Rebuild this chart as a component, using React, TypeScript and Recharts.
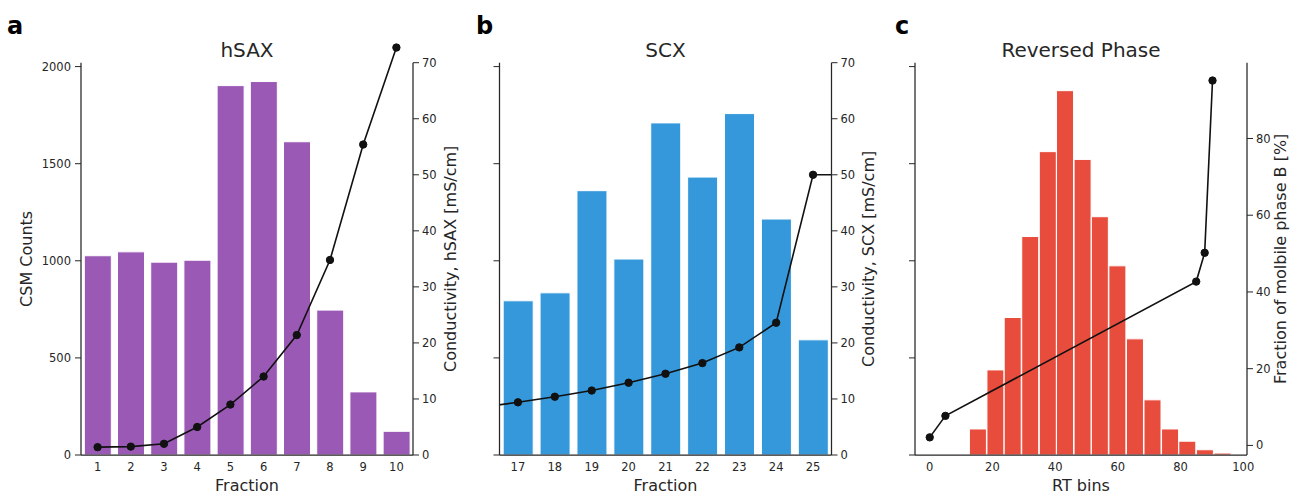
import React from 'react';
import { ComposedChart, Bar, Line, XAxis, YAxis, ReferenceLine } from 'recharts';

// panel a: hSAX fractions
const hsaxFractions = [1, 2, 3, 4, 5, 6, 7, 8, 9, 10];
const hsaxCounts = [1026, 1046, 993, 1003, 1902, 1923, 1613, 746, 325, 122];
const hsaxConductivity = [1.4, 1.5, 2.0, 5.0, 9.0, 14.0, 21.4, 34.8, 55.4, 72.7];

// panel b: SCX fractions (16 and 26 sit outside the axes, the line runs into the spines)
const scxFractions = [16, 17, 18, 19, 20, 21, 22, 23, 24, 25, 26];
const scxCounts = [null, 794, 835, 1361, 1009, 1710, 1431, 1758, 1215, 593, null];
const scxConductivity = [8.5, 9.4, 10.4, 11.5, 12.9, 14.5, 16.4, 19.2, 23.6, 50.0, 50.0];
const scxTicks = [17, 18, 19, 20, 21, 22, 23, 24, 25];

// panel c: reversed phase RT histogram + gradient
const rtBinCenters = [15.4, 21.0, 26.5, 32.1, 37.7, 43.2, 48.8, 54.3, 59.9, 65.5, 71.1, 76.7, 82.2, 87.8, 93.4];
const rtCounts = [134, 438, 708, 1125, 1562, 1876, 1522, 1227, 974, 598, 284, 134, 71, 27, 10];
const gradientTime = [0, 5, 85, 87.7, 90.2];
const gradientB = [2.1, 7.7, 42.7, 50.2, 95.1];
const rtTicks = [0, 20, 40, 60, 80, 100];

const countTicks = [0, 500, 1000, 1500, 2000];
const condTicks = [0, 10, 20, 30, 40, 50, 60, 70];
const phaseTicks = [0, 20, 40, 60, 80];

const hsaxRows = hsaxFractions.map((f, i) => ({ x: f, count: hsaxCounts[i], cond: hsaxConductivity[i] }));
const scxRows = scxFractions.map((f, i) => ({ x: f, count: scxCounts[i], cond: scxConductivity[i] }));
const rtRows = rtBinCenters.map((c, i) => ({ x: c, count: rtCounts[i] }));
const gradientRows = gradientTime.map((t, i) => ({ t, b: gradientB[i] }));

const W = 1292;
const H = 493;
const PLOT_TOP = 40; // drawing area starts above the spines so the last hSAX point is not cut
const SPINE_TOP = 62.7;
const BASE = 455;
const stretch = (BASE - PLOT_TOP) / (BASE - SPINE_TOP);
const grow = ([lo, hi]: number[]) => [lo, lo + (hi - lo) * stretch];

const COUNT_LIM = [0, 2020];
const COND_LIM = [0, 70];
const PHASE_LIM = [-2.5, 99.75];
const RT_DOMAIN = [-4.7, 101.2];

const INK = '#262626';
const PURPLE = '#9b59b6';
const BLUE = '#3498db';
const RED = '#e74c3c';

const tickStyle = { fill: INK, fontSize: 11.5 };
const axisLine = { stroke: INK, strokeWidth: 1.25 };
const dotStyle = { r: 3.7, fill: '#111', stroke: '#111', strokeWidth: 1 };

function spines(xId: string, xDom: number[], rightId: string, rightLim: number[]) {
  return [
    <ReferenceLine
      key="left"
      xAxisId={xId}
      yAxisId="count"
      segment={[{ x: xDom[0], y: COUNT_LIM[0] }, { x: xDom[0], y: COUNT_LIM[1] }]}
      stroke={INK}
      strokeWidth={1.25}
      ifOverflow="visible"
    />,
    <ReferenceLine
      key="right"
      xAxisId={xId}
      yAxisId={rightId}
      segment={[{ x: xDom[1], y: rightLim[0] }, { x: xDom[1], y: rightLim[1] }]}
      stroke={INK}
      strokeWidth={1.25}
      ifOverflow="visible"
    />,
  ];
}

function xLabel(value: string) {
  return { value, position: 'insideBottom' as const, offset: 2.5, fill: INK, fontSize: 16 };
}

function YLabel({ x, text }: { x: number; text: string }) {
  const y = (SPINE_TOP + BASE) / 2;
  return (
    <text x={x} y={y} dy="0.355em" transform={`rotate(-90 ${x} ${y})`} textAnchor="middle" fill={INK} fontSize={16}>
      {text}
    </text>
  );
}

export default function App() {
  const noLabel = () => '';
  return (
    <div style={{ position: 'absolute', left: 0, top: 0, width: W, height: H, fontFamily: "'DejaVu Sans', sans-serif", background: '#fff' }}>
      {/* a: hSAX */}
      <div style={{ position: 'absolute', left: 0, top: 0 }}>
        <ComposedChart width={460} height={H} data={hsaxRows} margin={{ top: PLOT_TOP, right: 0, bottom: 0, left: 0 }} barCategoryGap="10%">
          <XAxis xAxisId="x" dataKey="x" type="number" domain={[0.5, 10.5]} allowDataOverflow ticks={hsaxFractions} interval={0}
            height={H - BASE} tickLine={false} tickSize={0} tickMargin={8} axisLine={axisLine} tick={tickStyle} label={xLabel('Fraction')} />
          <YAxis yAxisId="count" width={81} domain={grow(COUNT_LIM)} allowDataOverflow ticks={countTicks} interval={0}
            axisLine={false} tickSize={6} tickMargin={4} tickLine={{ stroke: INK }} tick={tickStyle} />
          <YAxis yAxisId="cond" orientation="right" width={47} domain={grow(COND_LIM)} allowDataOverflow ticks={condTicks} interval={0}
            axisLine={false} tickSize={6} tickMargin={3} tickLine={{ stroke: INK }} tick={tickStyle} />
          <Bar xAxisId="x" yAxisId="count" dataKey="count" fill={PURPLE} stroke="#fff" strokeWidth={1} isAnimationActive={false} />
          <Line xAxisId="x" yAxisId="cond" dataKey="cond" type="linear" stroke="#111" strokeWidth={1.6}
            dot={dotStyle} activeDot={false} isAnimationActive={false} />
          {spines('x', [0.5, 10.5], 'cond', COND_LIM)}
        </ComposedChart>
      </div>

      {/* b: SCX */}
      <div style={{ position: 'absolute', left: 460, top: 0 }}>
        <ComposedChart width={415} height={H} data={scxRows} margin={{ top: PLOT_TOP, right: 0, bottom: 0, left: 0 }} barCategoryGap="10%">
          <XAxis xAxisId="x" dataKey="x" type="number" domain={[16.5, 25.5]} allowDataOverflow ticks={scxTicks} interval={0}
            height={H - BASE} tickLine={false} tickSize={0} tickMargin={8} axisLine={axisLine} tick={tickStyle} label={xLabel('Fraction')} />
          <YAxis yAxisId="count" width={39.5} domain={grow(COUNT_LIM)} allowDataOverflow ticks={countTicks} interval={0}
            axisLine={false} tickSize={6} tickMargin={4} tickLine={{ stroke: INK }} tick={tickStyle} tickFormatter={noLabel} />
          <YAxis yAxisId="cond" orientation="right" width={43.5} domain={grow(COND_LIM)} allowDataOverflow ticks={condTicks} interval={0}
            axisLine={false} tickSize={6} tickMargin={3} tickLine={{ stroke: INK }} tick={tickStyle} />
          <Bar xAxisId="x" yAxisId="count" dataKey="count" fill={BLUE} stroke="#fff" strokeWidth={1} isAnimationActive={false} />
          <Line xAxisId="x" yAxisId="cond" dataKey="cond" type="linear" stroke="#111" strokeWidth={1.6}
            dot={dotStyle} activeDot={false} isAnimationActive={false} />
          {spines('x', [16.5, 25.5], 'cond', COND_LIM)}
        </ComposedChart>
      </div>

      {/* c: Reversed Phase */}
      <div style={{ position: 'absolute', left: 875, top: 0 }}>
        <ComposedChart width={417} height={H} data={rtRows} margin={{ top: PLOT_TOP, right: 0, bottom: 0, left: 0 }} barCategoryGap={0}>
          <XAxis xAxisId="x" dataKey="x" type="number" domain={RT_DOMAIN} allowDataOverflow ticks={rtTicks} interval={0}
            height={H - BASE} tickLine={false} tickSize={0} tickMargin={8} axisLine={axisLine} tick={tickStyle} label={xLabel('RT bins')} />
          <XAxis xAxisId="t" dataKey="t" type="number" domain={RT_DOMAIN} allowDataOverflow hide height={0} orientation="top" />
          <YAxis yAxisId="count" width={40} domain={grow(COUNT_LIM)} allowDataOverflow ticks={countTicks} interval={0}
            axisLine={false} tickSize={6} tickMargin={4} tickLine={{ stroke: INK }} tick={tickStyle} tickFormatter={noLabel} />
          <YAxis yAxisId="phase" orientation="right" width={45} domain={grow(PHASE_LIM)} allowDataOverflow ticks={phaseTicks} interval={0}
            axisLine={false} tickSize={6} tickMargin={3} tickLine={{ stroke: INK }} tick={tickStyle} />
          <Bar xAxisId="x" yAxisId="count" dataKey="count" fill={RED} stroke="#fff" strokeWidth={1} isAnimationActive={false} />
          <Line xAxisId="t" yAxisId="phase" data={gradientRows} dataKey="b" type="linear" stroke="#111" strokeWidth={1.6}
            dot={dotStyle} activeDot={false} isAnimationActive={false} />
          {spines('x', RT_DOMAIN, 'phase', PHASE_LIM)}
        </ComposedChart>
      </div>

      <svg width={W} height={H} style={{ position: 'absolute', left: 0, top: 0, pointerEvents: 'none' }}>
        <g fontWeight="bold" fontSize={24} fill="#000">
          <text x={7} y={34}>a</text>
          <text x={476} y={34}>b</text>
          <text x={895} y={34}>c</text>
        </g>
        <g fontSize={20} fill={INK} textAnchor="middle">
          <text x={247} y={56.7}>hSAX</text>
          <text x={665.5} y={56.7}>SCX</text>
          <text x={1081} y={56.7}>Reversed Phase</text>
        </g>
        <YLabel x={26} text="CSM Counts" />
        <YLabel x={450.5} text="Conductivity, hSAX [mS/cm]" />
        <YLabel x={868} text="Conductivity, SCX [mS/cm]" />
        <YLabel x={1280.8} text="Fraction of molbile phase B [%]" />
      </svg>
    </div>
  );
}
